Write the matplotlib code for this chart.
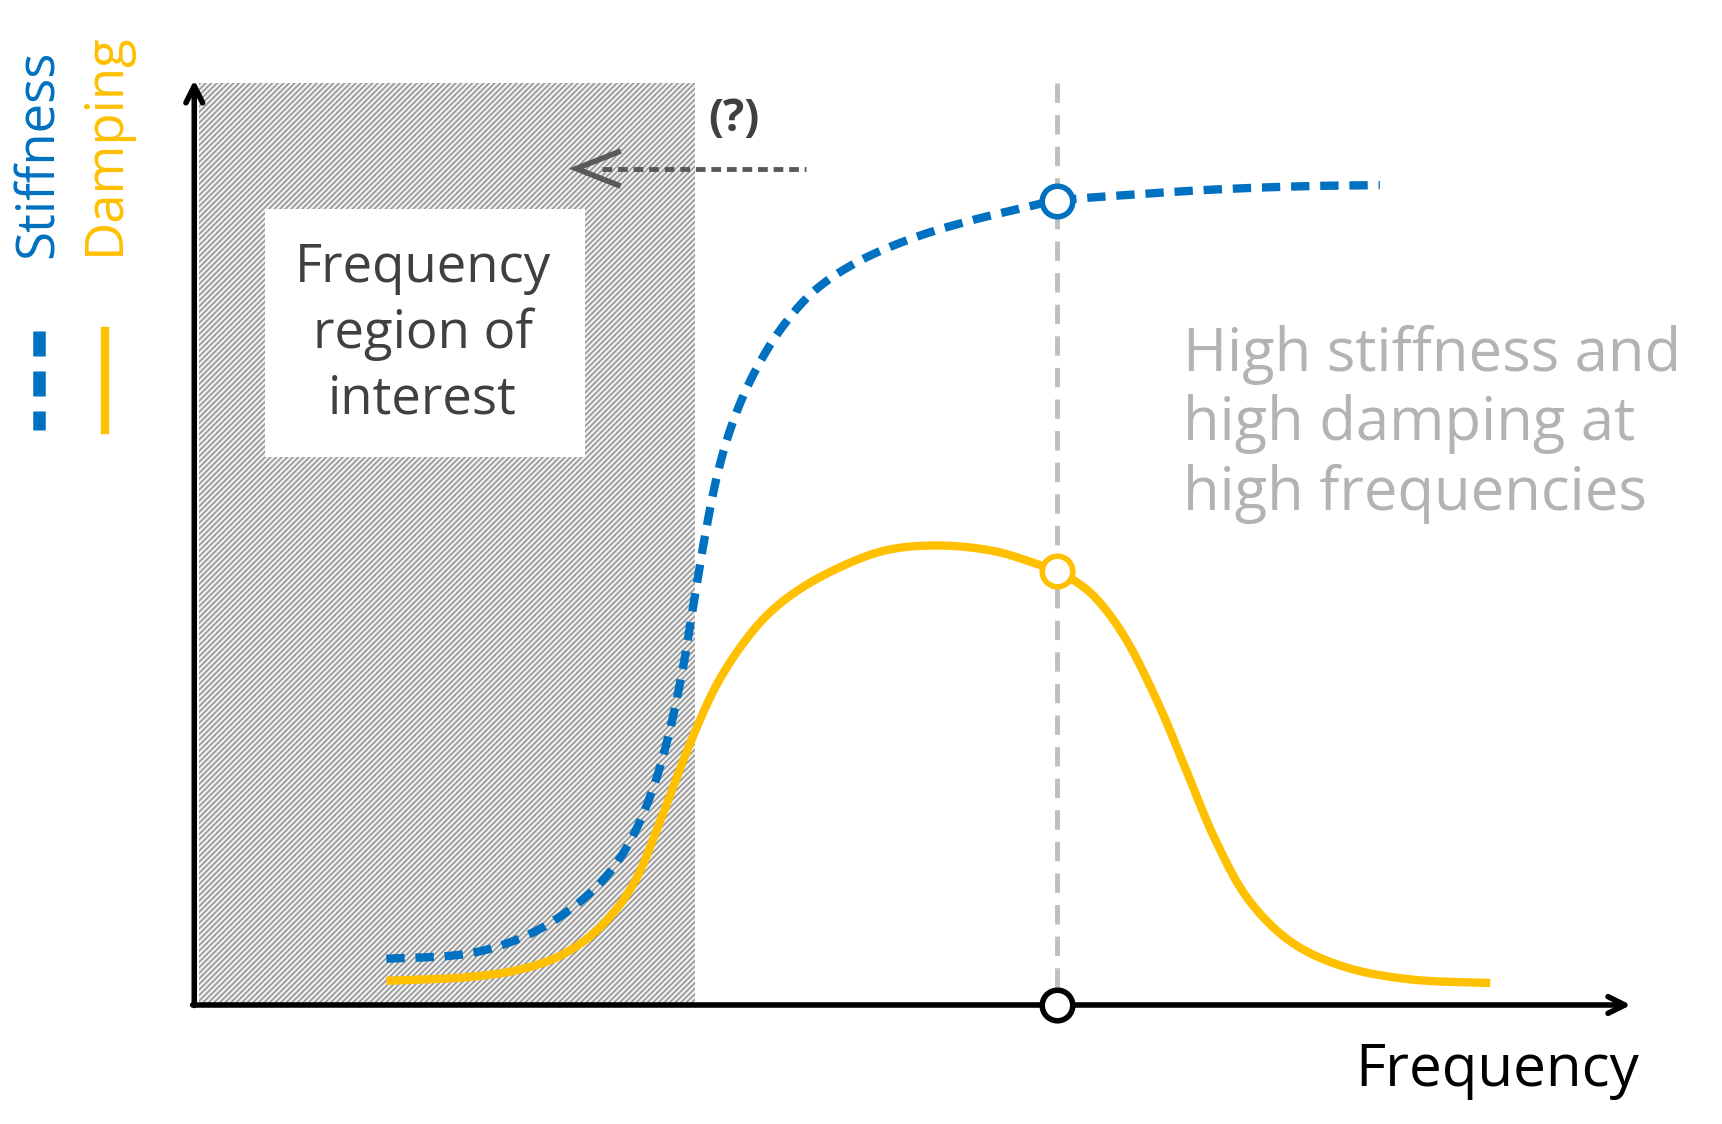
import matplotlib
matplotlib.use("Agg")
import matplotlib.pyplot as plt
from matplotlib.patches import Rectangle
import numpy as np

plt.rcParams['font.family'] = ['Open Sans', 'DejaVu Sans']
plt.rcParams['hatch.color'] = '#8c8c8c'
plt.rcParams['hatch.linewidth'] = 1.0

stiff_x = [350, 420, 470, 510, 545, 570, 590, 605, 618, 628, 638, 650, 665, 685, 710, 740, 780, 830, 880, 930, 958, 1020, 1100, 1180, 1250]
stiff_y = [870, 866, 852, 830, 800, 765, 720, 670, 610, 550, 490, 430, 380, 335, 295, 262, 236, 215, 200, 188, 182, 177, 172, 169, 168]
damp_x = [350, 420, 470, 510, 545, 575, 600, 625, 650, 680, 710, 750, 800, 850, 900, 940, 958, 990, 1020, 1050, 1075, 1100, 1130, 1170, 1220, 1280, 1350]
damp_y = [890, 887, 880, 866, 840, 800, 740, 675, 620, 575, 545, 520, 500, 495, 500, 512, 518, 540, 580, 640, 700, 760, 815, 855, 878, 889, 892]


def smooth(xs, ys, n=20):
    p = np.column_stack([xs, ys]).astype(float)
    p = np.vstack([p[0], p, p[-1]])
    out = []
    t = np.linspace(0, 1, n, endpoint=False)[:, None]
    for i in range(1, len(p) - 2):
        p0, p1, p2, p3 = p[i - 1], p[i], p[i + 1], p[i + 2]
        out.append(0.5 * ((2 * p1) + (-p0 + p2) * t + (2 * p0 - 5 * p1 + 4 * p2 - p3) * t ** 2
                          + (-p0 + 3 * p1 - 3 * p2 + p3) * t ** 3))
    out.append(p[-2][None, :])
    out = np.vstack(out)
    return out[:, 0], out[:, 1]


fig = plt.figure(figsize=(17.22, 11.24), dpi=100)
ax = fig.add_axes([0, 0, 1, 1])
ax.set_xlim(0, 1560)
ax.set_ylim(1020, 0)
ax.axis('off')

ax.add_patch(Rectangle((180, 75), 450, 835, facecolor='#ececec', edgecolor='#8c8c8c', hatch='//////', lw=0))
ax.add_patch(Rectangle((240, 190), 290, 225, facecolor='white', edgecolor='none'))
ax.text(383, 303, "Frequency\nregion of\ninterest", ha='center', va='center', fontsize=38, color='#404040', linespacing=1.3)

ax.plot([958, 958], [75, 910], ls=(0, (4, 2.5)), color='#bfbfbf', lw=3.5)

dx, dy = smooth(damp_x, damp_y)
sx, sy = smooth(stiff_x, stiff_y)
ax.plot(dx, dy, color='#ffc000', lw=6, solid_capstyle='butt')
ax.plot(sx, sy, color='#0070c0', lw=6, ls=(0, (2.2, 1.3)))

ax.plot([958], [518], 'o', ms=22, mfc='white', mec='#ffc000', mew=4)
ax.plot([958], [182], 'o', ms=22, mfc='white', mec='#0070c0', mew=4)

ax.annotate('', xy=(176, 70), xytext=(176, 915), arrowprops=dict(arrowstyle='->,head_length=1.2,head_width=0.6', lw=4, color='black'))
ax.annotate('', xy=(1480, 912), xytext=(172, 912), arrowprops=dict(arrowstyle='->,head_length=1.2,head_width=0.6', lw=4, color='black'))
ax.plot([958], [912], 'o', ms=22, mfc='white', mec='black', mew=4, zorder=5)

ax.plot([545, 730], [153, 153], color='#595959', lw=3.5, ls=(0, (2, 1.2)))
ax.plot([560, 522, 560], [138, 153, 168], color='#595959', lw=4, solid_joinstyle='miter')
ax.text(665, 108, "(?)", ha='center', va='center', fontsize=32, color='#404040', fontweight='bold')

ax.text(1072, 385, "High stiffness and\nhigh damping at\nhigh frequencies", ha='left', va='center', fontsize=43, color='#b3b3b3', linespacing=1.2)
ax.text(1485, 972, "Frequency", ha='right', va='center', fontsize=42, color='black')

ax.text(35, 140, "Stiffness", rotation=90, ha='center', va='center', fontsize=38, color='#0070c0')
ax.text(95, 130, "Damping", rotation=90, ha='center', va='center', fontsize=38, color='#ffc000')
ax.plot([35, 35], [300, 390], color='#0070c0', lw=9, ls=(0, (2, 1.2)))
ax.plot([95, 95], [300, 390], color='#ffc000', lw=6)

fig.savefig("out.png", dpi=100)
